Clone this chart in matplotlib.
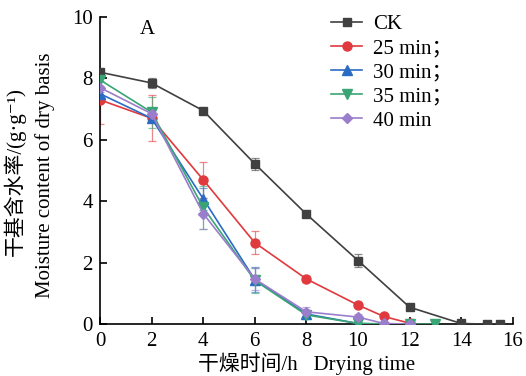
import numpy as np
import matplotlib.pyplot as plt

plt.rcParams['font.family'] = ['Liberation Serif', 'Noto Sans CJK SC', 'DejaVu Serif']

# 数据
t_ck = [0, 2, 4, 6, 8, 10, 12, 14, 15, 15.5]
ck = [8.2, 7.85, 6.95, 5.22, 3.58, 2.07, 0.55, 0.02, 0.0, 0.0]
ck_err = [0.05, 0.15, 0.05, 0.2, 0.1, 0.2, 0.05, 0.02, 0.0, 0.0]

t_25 = [0, 2, 4, 6, 8, 10, 11, 12]
m25 = [7.3, 6.7, 4.7, 2.65, 1.47, 0.62, 0.25, 0.03]
m25_err = [0.8, 0.75, 0.58, 0.38, 0.1, 0.05, 0.05, 0.02]

t_30 = [0, 2, 4, 6, 8, 10, 11]
m30 = [7.5, 6.7, 4.08, 1.45, 0.33, 0.02, 0.0]
m30_err = [0.05, 0.1, 0.35, 0.4, 0.1, 0.02, 0.0]

t_35 = [0, 2, 4, 6, 8, 10, 12, 13]
m35 = [7.95, 6.9, 3.8, 1.42, 0.3, 0.02, 0.0, 0.0]
m35_err = [0.05, 0.5, 0.7, 0.42, 0.12, 0.02, 0.0, 0.0]

t_40 = [0, 2, 4, 6, 8, 10, 11, 12]
m40 = [7.7, 6.85, 3.6, 1.47, 0.4, 0.23, 0.02, 0.0]
m40_err = [0.05, 0.2, 0.5, 0.35, 0.15, 0.1, 0.02, 0.0]

labels = ['CK', '25 min；', '30 min；', '35 min；', '40 min']
colors = ['#404040', '#e0393e', '#2a6cc4', '#3aa574', '#9b7ecb']
markers = ['s', 'o', '^', 'v', 'D']
sizes = [6, 6.5, 6.5, 6.5, 5]

series = [(t_ck, ck, ck_err), (t_25, m25, m25_err), (t_30, m30, m30_err),
          (t_35, m35, m35_err), (t_40, m40, m40_err)]

fig = plt.figure(figsize=(5.26, 3.76), dpi=100)
ax = fig.add_axes([0.190, 0.138, 0.785, 0.817])

for (t, y, e), lab, c, mk, ms in zip(series, labels, colors, markers, sizes):
    ax.errorbar(t, y, yerr=e, fmt='none', ecolor=c, elinewidth=0.9,
                capsize=3, capthick=0.9, alpha=0.6, zorder=2)
    ax.plot(t, y, color=c, marker=mk, markersize=ms, linewidth=1.2,
            label=lab, zorder=3)

ax.set_xlim(0, 16)
ax.set_ylim(0, 10)
ax.set_xticks(np.arange(0, 17, 2))
ax.set_yticks(np.arange(0, 11, 2))
ax.spines['top'].set_visible(False)
ax.spines['right'].set_visible(False)
ax.spines['left'].set_linewidth(1.2)
ax.spines['bottom'].set_linewidth(1.2)
ax.tick_params(direction='in', length=5, width=1.2, labelsize=15)
ax.tick_params(axis='x', pad=6)
ax.tick_params(axis='y', pad=5)

ax.set_xlabel('干燥时间/h   Drying time', fontsize=15, labelpad=1)

# y轴标题（两行）
fig.text(15 / 526, 1 - 172 / 376, '干基含水率/(g·g⁻¹)', rotation=90,
         ha='center', va='center', fontsize=15)
fig.text(45 / 526, 1 - 175 / 376, 'Moisture content of dry basis', rotation=90,
         ha='center', va='center', fontsize=15)

ax.text(1.55, 9.6, 'A', fontsize=15, ha='left', va='center')

leg = ax.legend(loc='upper left', bbox_to_anchor=(0.54, 1.035), frameon=False,
                fontsize=15, handlelength=1.5, handletextpad=0.5,
                labelspacing=0.22, borderaxespad=0)

fig.savefig('out.png', dpi=100)
